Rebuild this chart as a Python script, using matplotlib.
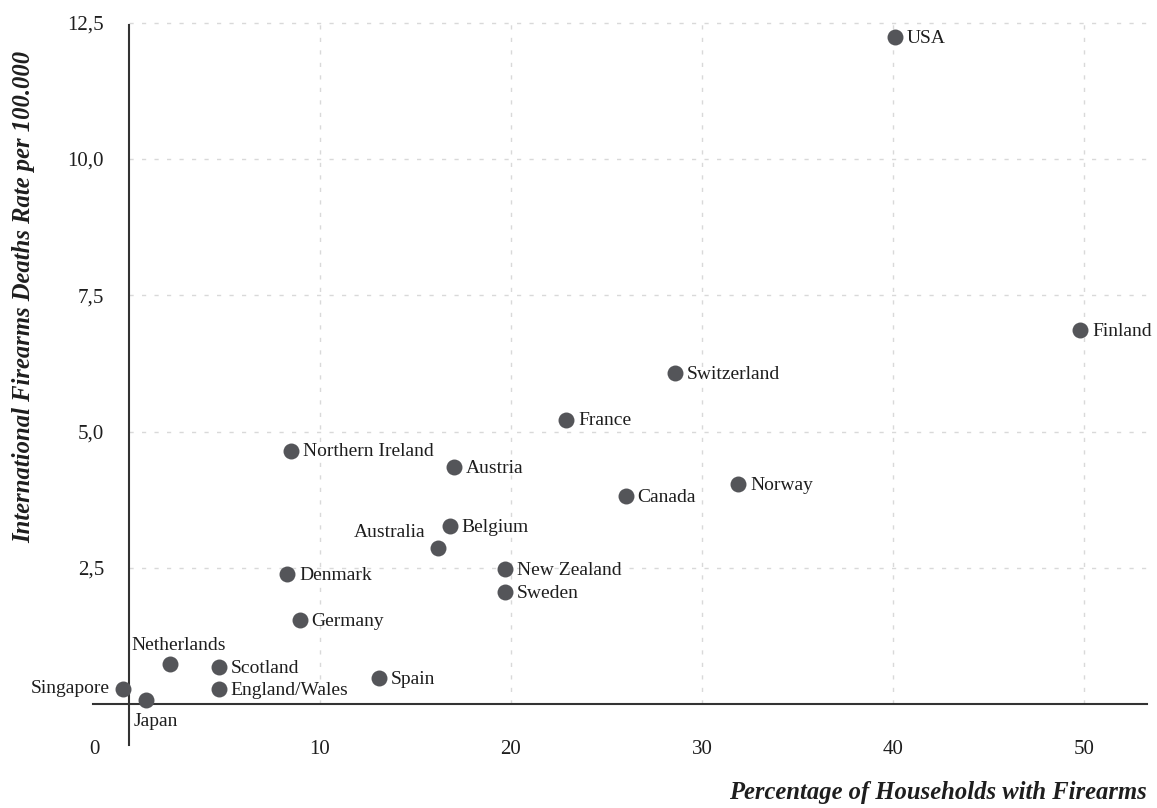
import matplotlib
matplotlib.use("Agg")
import matplotlib.pyplot as plt

# ---------------- data ----------------
countries = ["USA", "Finland", "Switzerland", "France", "Northern Ireland", "Austria",
             "Canada", "Norway", "Belgium", "Australia", "New Zealand", "Sweden",
             "Denmark", "Germany", "Netherlands", "Scotland", "Spain", "Singapore",
             "England/Wales", "Japan"]
households_pct = [40.1, 49.8, 28.6, 22.9, 8.5, 17.0,
                  26.0, 31.9, 16.8, 16.2, 19.7, 19.7,
                  8.3, 8.95, 2.15, 4.7, 13.1, -0.3,
                  4.7, 0.9]
death_rate = [12.24, 6.86, 6.07, 5.22, 4.65, 4.35,
              3.82, 4.04, 3.27, 2.87, 2.47, 2.06,
              2.38, 1.54, 0.74, 0.67, 0.47, 0.28,
              0.28, 0.08]
x_ticks = [10, 20, 30, 40, 50]
x_tick_labels = ["10", "20", "30", "40", "50"]
y_ticks = [2.5, 5.0, 7.5, 10.0, 12.5]
y_tick_labels = ["2,5", "5,0", "7,5", "10,0", "12,5"]
x_title = "Percentage of Households with Firearms"
y_title = "International Firearms Deaths Rate per 100.000"

# ---------------- style ----------------
FONT = ["Liberation Serif", "DejaVu Serif"]
plt.rcParams["font.family"] = FONT
DOT = "#545559"
TXT = "#1e1e1e"
GRID = "#d9d9d9"
AX = "#333333"

W, H, DPI = 1157, 808, 100
fig = plt.figure(figsize=(W / DPI, H / DPI), dpi=DPI)
left_px, right_px = 93, 1147
top_px, bot_px = 17.3, 745
ax = fig.add_axes([left_px / W, (H - bot_px) / H,
                   (right_px - left_px) / W, (bot_px - top_px) / H])
ax.set_xlim(-1.88, 53.3)
ax.set_ylim(-0.752, 12.6)

# grid
ax.hlines(y_ticks, 0, 53.3, colors=GRID, linewidth=1.0,
          linestyles=(0, (3, 6)), zorder=1)
ax.vlines(x_ticks, 0, 12.5, colors=GRID, linewidth=1.0,
          linestyles=(0, (3, 6)), zorder=1)

# spines as crossing axis lines
for s in ["top", "right"]:
    ax.spines[s].set_visible(False)
ax.spines["left"].set_position(("data", 0))
ax.spines["bottom"].set_position(("data", 0))
ax.spines["left"].set_bounds(-0.752, 12.45)
for s in ["left", "bottom"]:
    ax.spines[s].set_color(AX)
    ax.spines[s].set_linewidth(1.5)

ax.set_xticks(x_ticks)
ax.set_xticklabels(x_tick_labels)
ax.set_yticks(y_ticks)
ax.set_yticklabels(y_tick_labels)
ax.tick_params(axis="x", length=0, pad=26, labelsize=15, labelcolor=TXT)
ax.tick_params(axis="y", length=0, pad=18, labelsize=15, labelcolor=TXT)
for lab in ax.get_xticklabels() + ax.get_yticklabels():
    lab.set_family(FONT)

# origin "0" label
ax.annotate("0", xy=(0, 0), xytext=(-25, -33), textcoords="offset points",
            ha="center", va="center", fontsize=15, color=TXT,
            annotation_clip=False)

# points
ax.scatter(households_pct, death_rate, s=132, color=DOT, zorder=3,
           linewidths=0)

# labels (offsets in points)
special = {
    "Australia": dict(xytext=(-9, 11), ha="right", va="center"),
    "Singapore": dict(xytext=(-10, 0), ha="right", va="center"),
    "Netherlands": dict(xytext=(6, 13), ha="center", va="center"),
    "Japan": dict(xytext=(7, -16), ha="center", va="center"),
}
for name, xv, yv in zip(countries, households_pct, death_rate):
    kw = special.get(name, dict(xytext=(8.5, -1), ha="left", va="center"))
    ax.annotate(name, xy=(xv, yv), textcoords="offset points",
                fontsize=14, color=TXT, zorder=4, annotation_clip=False,
                **kw)

# axis titles
fig.text(right_px / W, 1 - 793 / H, x_title, ha="right", va="center",
         fontsize=17.7, fontweight="bold", fontstyle="italic", color=TXT)
fig.text(24 / W, 1 - 297 / H, y_title, ha="center", va="center",
         rotation=90, fontsize=17.7, fontweight="bold", fontstyle="italic",
         color=TXT)

fig.savefig("out.png", dpi=DPI)
